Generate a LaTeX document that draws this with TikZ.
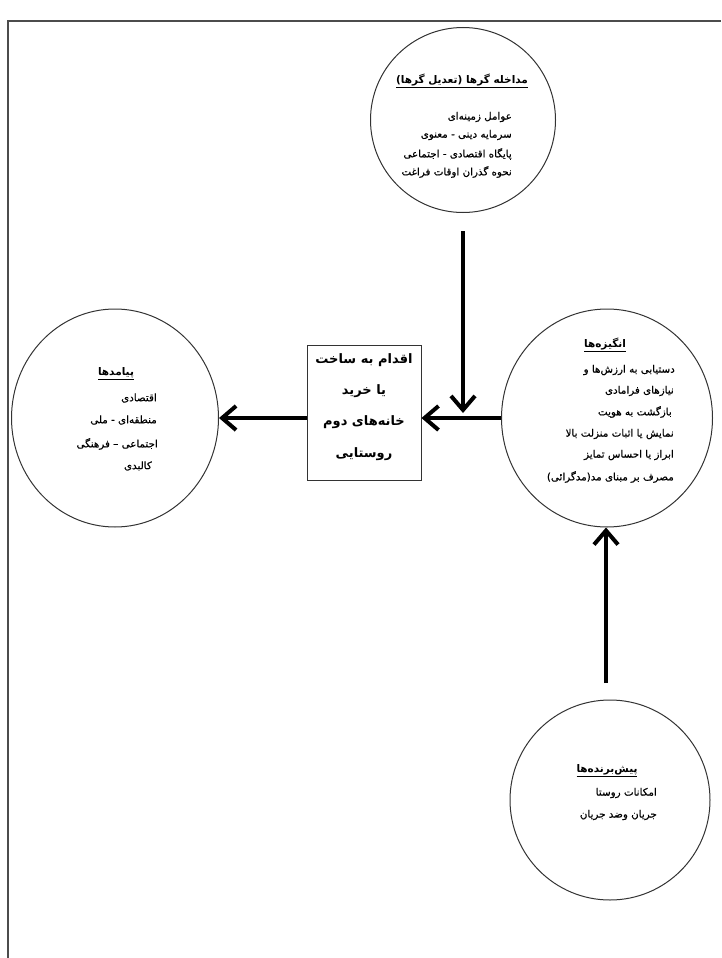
\documentclass[tikz,border=0pt]{standalone}
\usepackage{fontspec}
\TeXXeTstate=1
\newfontfamily\arabicfont[Script=Arabic]{DejaVu Sans}
\newfontfamily\arabicbody[Script=Arabic,FakeBold=0.6]{DejaVu Sans}
\usetikzlibrary{arrows.meta,shapes.geometric}
\newcommand\fa[1]{\beginR #1\endR}
\tikzset{
  ring/.style={draw=black!80, line width=1pt, ellipse, inner sep=0pt},
  txt/.style={font=\arabicbody\fontsize{10.3}{12}\selectfont, inner sep=0pt, anchor=east},
  headtxt/.style={font=\arabicfont\bfseries\fontsize{10.5}{12}\selectfont, inner sep=0pt},
  boxtxt/.style={font=\arabicfont\bfseries\fontsize{13}{15}\selectfont, inner sep=0pt},
  bigarrow/.style={line width=4pt, -{Straight Barb[length=14pt,width=24pt]}},
  frame/.style={draw=black!70, line width=1.4pt}
}
\begin{document}
\begin{tikzpicture}[x=1pt,y=-1pt]
\useasboundingbox (0,0) rectangle (721,958);
\draw[frame] (8,958) -- (8,21) -- (721,21);

% shapes
\node[ring, minimum width=185pt, minimum height=185pt] (med) at (463,120) {};
\node[ring, minimum width=211pt, minimum height=218pt] (ang) at (607,418) {};
\node[ring, minimum width=200pt, minimum height=200pt] (pish) at (610,800) {};
\node[ring, minimum width=207pt, minimum height=218pt] (pay) at (115,418) {};
\node[draw=black!80, line width=0.9pt, minimum width=114pt, minimum height=135pt, inner sep=0pt] (box) at (364,412.5) {};

% connectors
\coordinate (medout) at (463,231);
\coordinate (join) at (463,413);
\coordinate (pishout) at (606,683);
\draw[bigarrow] (medout) -- (join);
\draw[bigarrow] (ang.west) -- (box.east |- ang.west);
\draw[bigarrow] (box.west |- pay.east) -- (pay.east);
\draw[bigarrow] (pishout) -- (pishout |- ang.south);

% top circle text
\node[headtxt] (medh) at (462,81) {\underline{\fa{مداخله گرها (تعدیل گرها)}}};
\node[txt] (med1) at (512,117) {\fa{عوامل زمینه‌ای}};
\node[txt] (med2) at (512,135) {\fa{سرمایه دینی - معنوی}};
\node[txt] (med3) at (512,154) {\fa{پایگاه اقتصادی - اجتماعی}};
\node[txt] (med4) at (512,172) {\fa{نحوه گذران اوقات فراغت}};

% right circle text
\node[headtxt] (angh) at (605,345) {\underline{\fa{انگیزه‌ها}}};
\node[txt] (ang1) at (675,370) {\fa{دستیابی به ارزش‌ها و}};
\node[txt] (ang2) at (674,391) {\fa{نیازهای فرامادی}};
\node[txt] (ang3) at (672,412) {\fa{بازگشت به هویت}};
\node[txt] (ang4) at (674,434) {\fa{نمایش یا اثبات منزلت بالا}};
\node[txt] (ang5) at (674,455) {\fa{ابراز یا احساس تمایز}};
\node[txt] (ang6) at (674,477) {\fa{مصرف بر مبنای مد(مدگرائی)}};

% left circle text
\node[headtxt] (payh) at (116,374) {\underline{\fa{پیامدها}}};
\node[txt] (pay1) at (157,398) {\fa{اقتصادی}};
\node[txt] (pay2) at (157,420) {\fa{منطقه‌ای - ملی}};
\node[txt] (pay3) at (158,444) {\fa{اجتماعی – فرهنگی}};
\node[txt] (pay4) at (152,466) {\fa{کالبدی}};

% bottom circle text
\node[headtxt] (pishh) at (607,771) {\underline{\fa{پیش‌برنده‌ها}}};
\node[txt] (pish1) at (657,793) {\fa{امکانات روستا}};
\node[txt] (pish2) at (657,815) {\fa{جریان وضد جریان}};

% box text
\node[boxtxt] (b1) at (364,360) {\fa{اقدام به ساخت}};
\node[boxtxt] (b2) at (364,391) {\fa{یا خرید}};
\node[boxtxt] (b3) at (364,422) {\fa{خانه‌های دوم}};
\node[boxtxt] (b4) at (364,454) {\fa{روستایی}};
\end{tikzpicture}
\end{document}
